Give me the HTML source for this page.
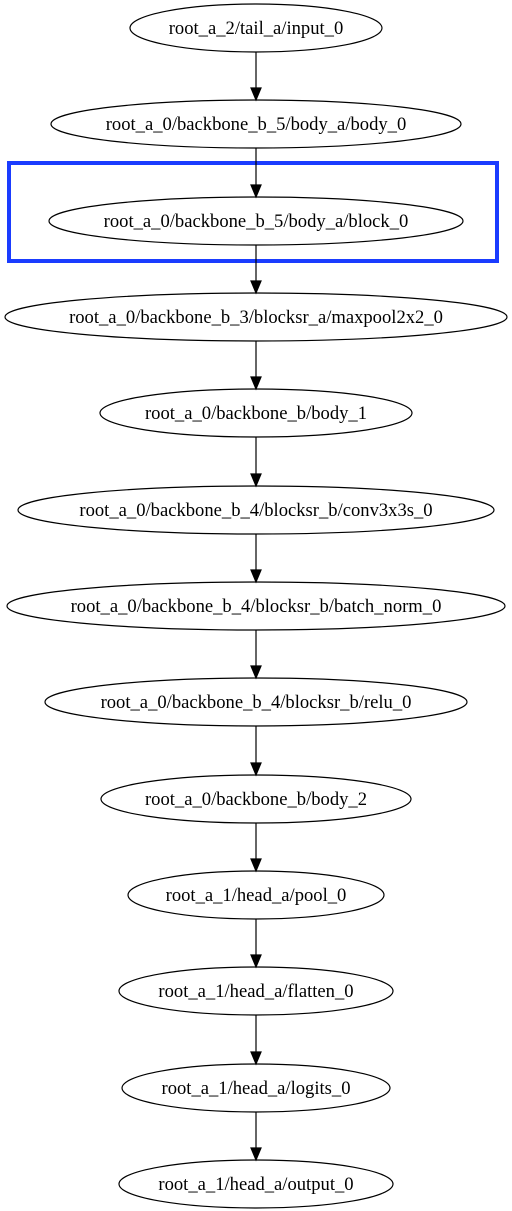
<!DOCTYPE html>
<html><head><meta charset="utf-8"><style>
html,body{margin:0;padding:0;background:#fff;}
svg{display:block;}
text{font-family:"Liberation Serif","Times New Roman",serif;font-size:18.6px;fill:#000;}
</style></head><body>
<svg width="512" height="1211" viewBox="0 0 512 1211" xmlns="http://www.w3.org/2000/svg">
<rect x="9" y="163" width="488" height="98" fill="none" stroke="#1a3cff" stroke-width="4"/>
<g fill="none" stroke="#000" stroke-width="1.2">
<ellipse cx="256" cy="28" rx="126" ry="24"/>
<ellipse cx="256" cy="124" rx="205" ry="24"/>
<ellipse cx="256" cy="221" rx="207" ry="24"/>
<ellipse cx="256" cy="317" rx="251" ry="24"/>
<ellipse cx="256" cy="413" rx="156" ry="24"/>
<ellipse cx="256" cy="510" rx="238" ry="24"/>
<ellipse cx="256" cy="606" rx="249" ry="24"/>
<ellipse cx="256" cy="702" rx="211" ry="24"/>
<ellipse cx="256" cy="799" rx="155" ry="24"/>
<ellipse cx="256" cy="895" rx="128" ry="24"/>
<ellipse cx="256" cy="991" rx="137" ry="24"/>
<ellipse cx="256" cy="1088" rx="134" ry="24"/>
<ellipse cx="256" cy="1184" rx="137" ry="24"/>
</g>
<g stroke="#000" stroke-width="1.2" fill="#000">
<line x1="256" y1="52" x2="256" y2="89"/><polygon points="251,88 261,88 256,100"/>
<line x1="256" y1="148" x2="256" y2="186"/><polygon points="251,185 261,185 256,197"/>
<line x1="256" y1="245" x2="256" y2="282"/><polygon points="251,281 261,281 256,293"/>
<line x1="256" y1="341" x2="256" y2="378"/><polygon points="251,377 261,377 256,389"/>
<line x1="256" y1="437" x2="256" y2="475"/><polygon points="251,474 261,474 256,486"/>
<line x1="256" y1="534" x2="256" y2="571"/><polygon points="251,570 261,570 256,582"/>
<line x1="256" y1="630" x2="256" y2="667"/><polygon points="251,666 261,666 256,678"/>
<line x1="256" y1="726" x2="256" y2="764"/><polygon points="251,763 261,763 256,775"/>
<line x1="256" y1="823" x2="256" y2="860"/><polygon points="251,859 261,859 256,871"/>
<line x1="256" y1="919" x2="256" y2="956"/><polygon points="251,955 261,955 256,967"/>
<line x1="256" y1="1015" x2="256" y2="1053"/><polygon points="251,1052 261,1052 256,1064"/>
<line x1="256" y1="1112" x2="256" y2="1149"/><polygon points="251,1148 261,1148 256,1160"/>
</g>
<g text-anchor="middle">
<text x="256" y="34">root_a_2/tail_a/input_0</text>
<text x="256" y="130">root_a_0/backbone_b_5/body_a/body_0</text>
<text x="256" y="227">root_a_0/backbone_b_5/body_a/block_0</text>
<text x="256" y="323">root_a_0/backbone_b_3/blocksr_a/maxpool2x2_0</text>
<text x="256" y="419">root_a_0/backbone_b/body_1</text>
<text x="256" y="516">root_a_0/backbone_b_4/blocksr_b/conv3x3s_0</text>
<text x="256" y="612">root_a_0/backbone_b_4/blocksr_b/batch_norm_0</text>
<text x="256" y="708">root_a_0/backbone_b_4/blocksr_b/relu_0</text>
<text x="256" y="805">root_a_0/backbone_b/body_2</text>
<text x="256" y="901">root_a_1/head_a/pool_0</text>
<text x="256" y="997">root_a_1/head_a/flatten_0</text>
<text x="256" y="1094">root_a_1/head_a/logits_0</text>
<text x="256" y="1190">root_a_1/head_a/output_0</text>
</g>
</svg>
</body></html>
